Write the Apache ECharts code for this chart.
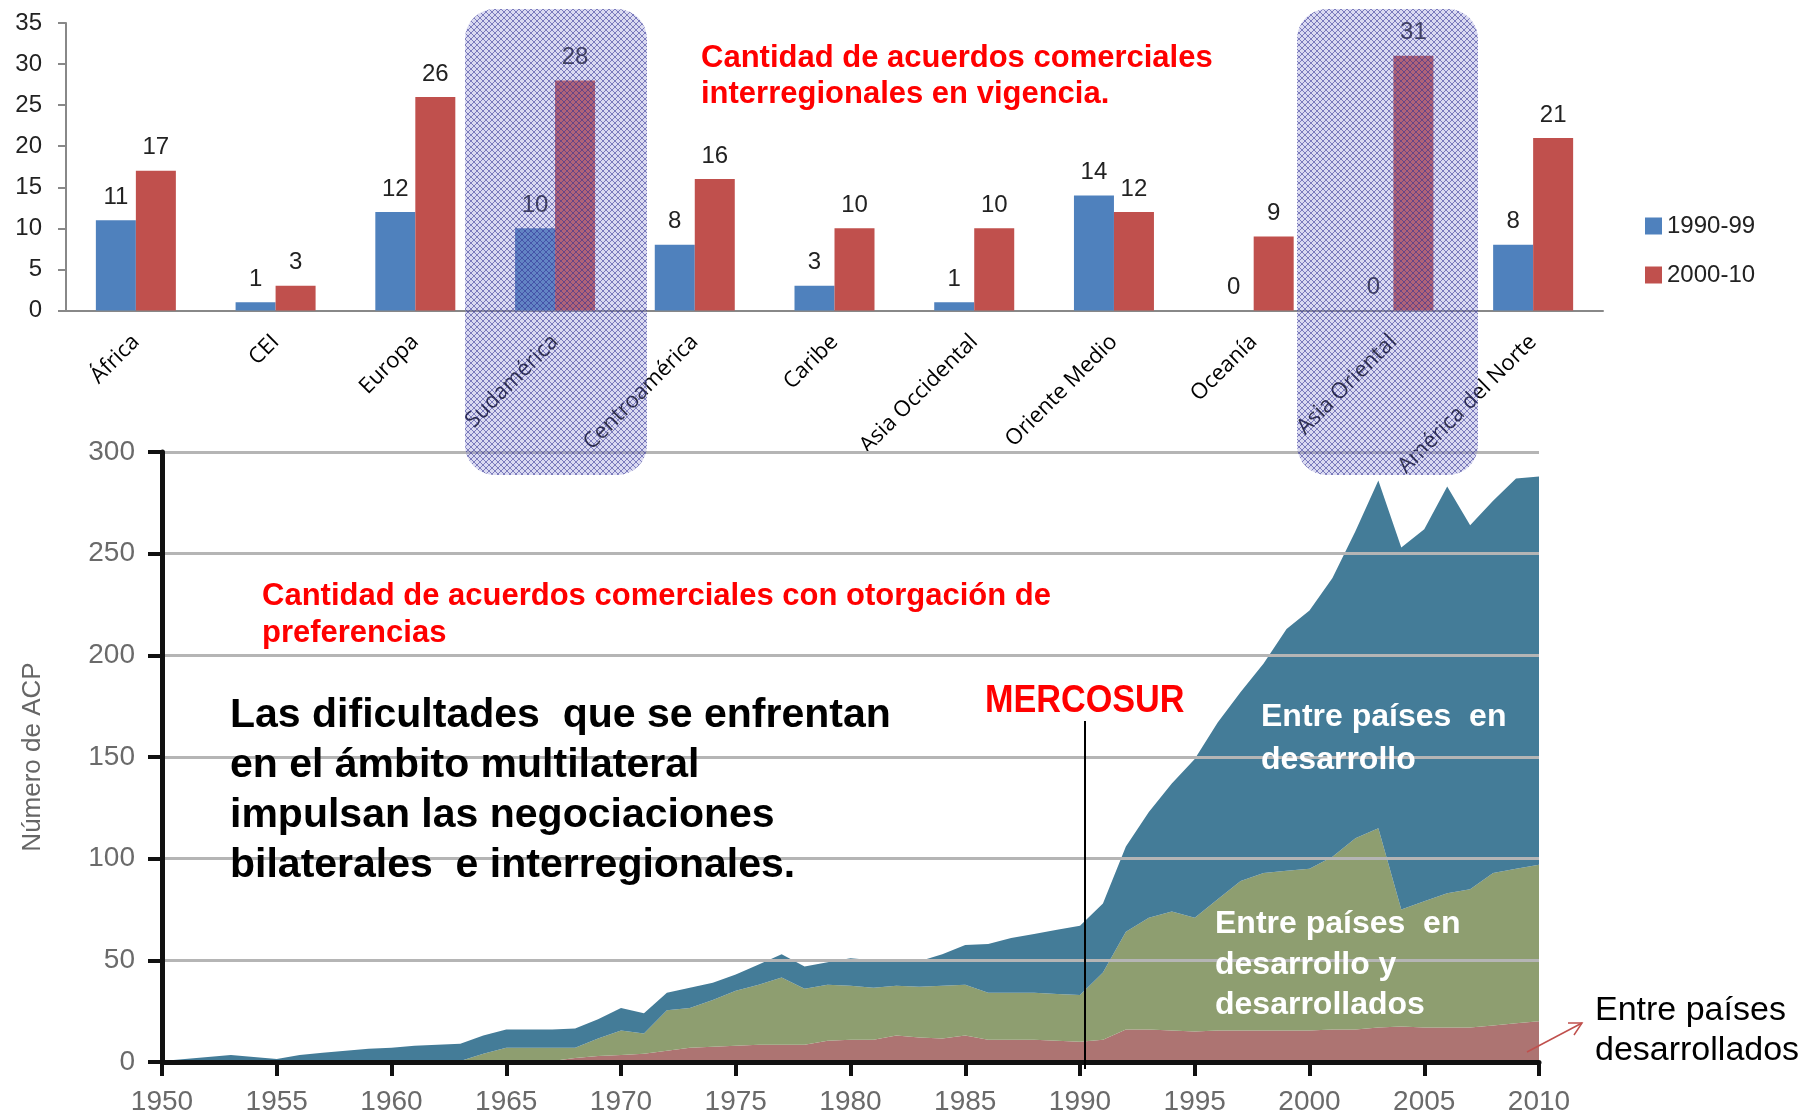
<!DOCTYPE html>
<html>
<head>
<meta charset="utf-8">
<script src="https://cdn.jsdelivr.net/npm/echarts@6/dist/echarts.min.js"></script>
<style>
  html, body { margin: 0; padding: 0; background: #fff; }
  #main { width: 1802px; height: 1116px; }
</style>
</head>
<body>
<div id="main"></div>
<script>
// acuerdos interregionales por región
var regiones = ['África', 'CEI', 'Europa', 'Sudamérica', 'Centroamérica', 'Caribe',
    'Asia Occidental', 'Oriente Medio', 'Oceanía', 'Asia Oriental', 'América del Norte'];
var acuerdos9099 = [11, 1, 12, 10, 8, 3, 1, 14, 0, 0, 8];
var acuerdos0010 = [17, 3, 26, 28, 16, 10, 10, 12, 9, 31, 21];

// número de ACP por año (valores de cada capa, no acumulados)
var anios = ['1950', '1951', '1952', '1953', '1954', '1955', '1956', '1957', '1958', '1959',
    '1960', '1961', '1962', '1963', '1964', '1965', '1966', '1967', '1968', '1969',
    '1970', '1971', '1972', '1973', '1974', '1975', '1976', '1977', '1978', '1979',
    '1980', '1981', '1982', '1983', '1984', '1985', '1986', '1987', '1988', '1989',
    '1990', '1991', '1992', '1993', '1994', '1995', '1996', '1997', '1998', '1999',
    '2000', '2001', '2002', '2003', '2004', '2005', '2006', '2007', '2008', '2009', '2010'];
var desarrollados = [0, 0, 0, 0, 0, 0, 0, 0, 0, 0,
    0, 0, 0, 0, 0, 0, 0, 0.5, 2, 3,
    3.5, 4, 5.5, 7, 7.5, 8, 8.5, 8.5, 8.5, 10.5,
    11, 11, 13, 12, 11.5, 13, 11, 11, 11, 10.5,
    10, 11, 16, 16, 15.5, 15, 15.5, 15.5, 15.5, 15.5,
    15.5, 16, 16, 17, 17.5, 17, 17, 17, 18, 19, 20];
var mixtos = [0, 0, 0, 0, 0, 0, 0, 0, 0, 0,
    0, 0, 0, 0.5, 4, 7, 7, 6.5, 5, 8.5,
    12, 10, 20, 19.5, 23, 27, 29.5, 33, 27.5, 27.5,
    26.5, 25.5, 24.5, 25, 26, 25, 23, 23, 23, 23,
    23, 33, 48, 55, 58.5, 56, 64.5, 73.5, 77.5, 78.5,
    79.5, 85, 94, 98, 57.5, 62, 66, 68, 75, 76, 77];
var enDesarrollo = [0.5, 1.5, 2.5, 3.5, 2.5, 1.5, 3.5, 4.5, 5.5, 6.5,
    7, 8, 8.5, 8.5, 9, 9, 9, 9, 9.5, 9.5,
    11, 10, 8.5, 10, 8.5, 8, 10, 11.5, 11, 11,
    13.5, 13.5, 12, 12.5, 15.5, 19.5, 24, 27, 29, 31.5,
    34, 34, 42, 52, 63, 78, 87, 93, 103, 119,
    127, 137, 151, 171, 178, 183, 200, 179, 183, 192, 191];

function cadaCinco(i) { return i % 5 === 0; }

// trama del sombreado
function trama() {
    var c = document.createElement('canvas');
    c.width = 6; c.height = 6;
    var g = c.getContext('2d');
    g.fillStyle = 'rgba(140,140,210,0.32)';
    g.fillRect(0, 0, 6, 6);
    g.strokeStyle = 'rgba(45,45,145,0.55)';
    g.lineWidth = 1;
    g.beginPath();
    g.moveTo(0, 0); g.lineTo(6, 6);
    g.moveTo(6, 0); g.lineTo(0, 6);
    g.stroke();
    return c;
}

var FONT = 'Liberation Sans, Arial, sans-serif';
var chart = echarts.init(document.getElementById('main'));
var patron = { image: trama(), repeat: 'repeat' };

var option = {
    animation: false,
    textStyle: { fontFamily: FONT },
    grid: [
        { left: 66, top: 23, right: 199, bottom: 805.5 },
        { left: 162, top: 452, right: 263, bottom: 53 }
    ],
    legend: {
        orient: 'vertical',
        left: 1645,
        top: 214,
        padding: 0,
        itemGap: 25,
        itemWidth: 17,
        itemHeight: 17,
        icon: 'rect',
        data: ['1990-99', '2000-10'],
        textStyle: { fontSize: 24, color: '#222', fontFamily: FONT }
    },
    xAxis: [{
        type: 'category',
        gridIndex: 0,
        data: regiones,
        axisLine: { lineStyle: { color: '#888', width: 2 } },
        axisTick: { length: 8, lineStyle: { color: '#888', width: 2 } },
        axisLabel: {
            interval: 0, rotate: 45, margin: 28,
            fontSize: 22, color: '#000', fontFamily: 'Open Sans'
        }
    }, {
        type: 'category',
        gridIndex: 1,
        data: anios,
        boundaryGap: false,
        z: 5,
        axisLine: { lineStyle: { color: '#111', width: 5 } },
        axisTick: { interval: cadaCinco, length: 14, lineStyle: { color: '#111', width: 4 } },
        axisLabel: { interval: cadaCinco, margin: 26, fontSize: 28, color: '#6a6a6a' }
    }],
    yAxis: [{
        type: 'value',
        gridIndex: 0,
        min: 0, max: 35, interval: 5,
        splitLine: { show: false },
        axisLine: { show: true, lineStyle: { color: '#888', width: 2 } },
        axisTick: { show: true, length: 8, lineStyle: { color: '#888', width: 2 } },
        axisLabel: { margin: 24, fontSize: 24, color: '#222' }
    }, {
        type: 'value',
        gridIndex: 1,
        min: 0, max: 300, interval: 50,
        z: 5,
        name: 'Número de ACP',
        nameLocation: 'middle',
        nameGap: 116,
        nameTextStyle: { fontSize: 26, color: '#666' },
        splitLine: { lineStyle: { color: '#b5b5b5', width: 3 } },
        axisLine: { show: true, lineStyle: { color: '#111', width: 5 } },
        axisTick: { show: true, length: 14, lineStyle: { color: '#111', width: 4 } },
        axisLabel: { margin: 27, fontSize: 28, color: '#6a6a6a' }
    }],
    series: [{
        name: '1990-99',
        type: 'bar',
        xAxisIndex: 0, yAxisIndex: 0,
        data: acuerdos9099,
        barWidth: 40,
        barGap: '0%',
        itemStyle: { color: '#4f81bd' },
        label: { show: true, position: 'top', distance: 11, fontSize: 24, color: '#222' }
    }, {
        name: '2000-10',
        type: 'bar',
        xAxisIndex: 0, yAxisIndex: 0,
        data: acuerdos0010,
        barWidth: 40,
        itemStyle: { color: '#c0504d' },
        label: { show: true, position: 'top', distance: 11, fontSize: 24, color: '#222' }
    }, {
        name: 'Entre países desarrollados',
        type: 'line',
        xAxisIndex: 1, yAxisIndex: 1,
        stack: 'acp',
        symbol: 'none',
        lineStyle: { width: 0 },
        areaStyle: { color: '#ad7472', opacity: 1 },
        data: desarrollados
    }, {
        name: 'Entre países en desarrollo y desarrollados',
        type: 'line',
        xAxisIndex: 1, yAxisIndex: 1,
        stack: 'acp',
        symbol: 'none',
        lineStyle: { width: 0 },
        areaStyle: { color: '#8e9e70', opacity: 1 },
        data: mixtos
    }, {
        name: 'Entre países en desarrollo',
        type: 'line',
        xAxisIndex: 1, yAxisIndex: 1,
        stack: 'acp',
        symbol: 'none',
        lineStyle: { width: 0 },
        areaStyle: { color: '#447c98', opacity: 1 },
        data: enDesarrollo
    }],
    graphic: [
        // sombreados sobre Sudamérica y Asia Oriental
        { type: 'rect', z: 20, shape: { x: 465, y: 9, width: 182, height: 466, r: 30 }, style: { fill: patron } },
        { type: 'rect', z: 20, shape: { x: 1297, y: 9, width: 181, height: 466, r: 30 }, style: { fill: patron } },
        { type: 'text', z: 30, x: 701, y: 58, style: { text: 'Cantidad de acuerdos comerciales', font: 'bold 31px ' + FONT, fill: '#ff0000', verticalAlign: 'middle' } },
        { type: 'text', z: 30, x: 701, y: 94, style: { text: 'interregionales en vigencia.', font: 'bold 31px ' + FONT, fill: '#ff0000', verticalAlign: 'middle' } },
        { type: 'text', z: 30, x: 262, y: 596, style: { text: 'Cantidad de acuerdos comerciales con otorgación de', font: 'bold 31px ' + FONT, fill: '#ff0000', verticalAlign: 'middle' } },
        { type: 'text', z: 30, x: 262, y: 633, style: { text: 'preferencias', font: 'bold 31px ' + FONT, fill: '#ff0000', verticalAlign: 'middle' } },
        { type: 'text', z: 30, x: 230, y: 716, style: { text: 'Las dificultades  que se enfrentan', font: 'bold 41px ' + FONT, fill: '#000', verticalAlign: 'middle' } },
        { type: 'text', z: 30, x: 230, y: 766, style: { text: 'en el ámbito multilateral', font: 'bold 41px ' + FONT, fill: '#000', verticalAlign: 'middle' } },
        { type: 'text', z: 30, x: 230, y: 816, style: { text: 'impulsan las negociaciones', font: 'bold 41px ' + FONT, fill: '#000', verticalAlign: 'middle' } },
        { type: 'text', z: 30, x: 230, y: 866, style: { text: 'bilaterales  e interregionales.', font: 'bold 41px ' + FONT, fill: '#000', verticalAlign: 'middle' } },
        { type: 'text', z: 30, x: 985, y: 702, scaleX: 0.9, style: { text: 'MERCOSUR', font: 'bold 38px ' + FONT, fill: '#ff0000', verticalAlign: 'middle' } },
        { type: 'line', z: 30, shape: { x1: 1085, y1: 721, x2: 1085, y2: 1069 }, style: { stroke: '#000', lineWidth: 2 } },
        { type: 'text', z: 30, x: 1261, y: 717, style: { text: 'Entre países  en', font: 'bold 32px ' + FONT, fill: '#fff', verticalAlign: 'middle' } },
        { type: 'text', z: 30, x: 1261, y: 760, style: { text: 'desarrollo', font: 'bold 32px ' + FONT, fill: '#fff', verticalAlign: 'middle' } },
        { type: 'text', z: 30, x: 1215, y: 924, style: { text: 'Entre países  en', font: 'bold 32px ' + FONT, fill: '#fff', verticalAlign: 'middle' } },
        { type: 'text', z: 30, x: 1215, y: 965, style: { text: 'desarrollo y', font: 'bold 32px ' + FONT, fill: '#fff', verticalAlign: 'middle' } },
        { type: 'text', z: 30, x: 1215, y: 1005, style: { text: 'desarrollados', font: 'bold 32px ' + FONT, fill: '#fff', verticalAlign: 'middle' } },
        { type: 'text', z: 30, x: 1595, y: 1011, style: { text: 'Entre países', font: '34px ' + FONT, fill: '#000', verticalAlign: 'middle' } },
        { type: 'text', z: 30, x: 1595, y: 1051, style: { text: 'desarrollados', font: '34px ' + FONT, fill: '#000', verticalAlign: 'middle' } },
        // flecha
        { type: 'polyline', z: 30, shape: { points: [[1527, 1052], [1582, 1023]] }, style: { stroke: '#c0504d', lineWidth: 1.5 } },
        { type: 'polyline', z: 30, shape: { points: [[1568, 1023], [1582, 1023], [1574, 1035]] }, style: { stroke: '#c0504d', lineWidth: 1.5, fill: null } }
    ]
};

chart.setOption(option);
</script>
</body>
</html>
